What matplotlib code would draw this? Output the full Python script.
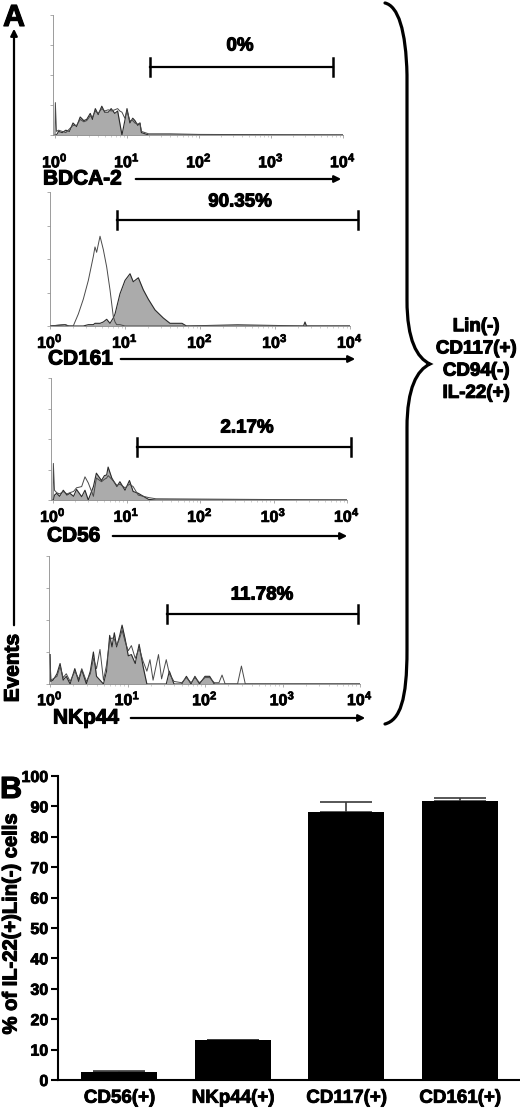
import numpy as np
import matplotlib
matplotlib.use('Agg')
import matplotlib.pyplot as plt
import matplotlib.patheffects as pe
from matplotlib.path import Path
from matplotlib.patches import PathPatch, FancyArrowPatch

plt.rcParams['font.family'] = ['Liberation Sans', 'DejaVu Sans']
plt.rcParams['font.weight'] = 'bold'
plt.rcParams['mathtext.fontset'] = 'custom'
plt.rcParams['mathtext.rm'] = 'Liberation Sans:bold'
plt.rcParams['mathtext.bf'] = 'Liberation Sans:bold'
plt.rcParams['mathtext.default'] = 'rm'

# ---------------- data ----------------
markers = ['BDCA-2', 'CD161', 'CD56', 'NKp44']
gate_pct = ['0%', '90.35%', '2.17%', '11.78%']
gate_lo = [21, 7.8, 13.9, 32]
gate_hi = [7200, 12600, 11300, 9400]
decades = [0, 1, 2, 3, 4]
decade_labels = ['$10^{0}$', '$10^{1}$', '$10^{2}$', '$10^{3}$', '$10^{4}$']
population = ['Lin(-)', 'CD117(+)', 'CD94(-)', 'IL-22(+)']

# histograms: channel position in decades, relative event counts
bdca_pos = [0.0, 0.005, 0.02, 0.05, 0.1, 0.15, 0.2, 0.25, 0.3, 0.35, 0.4, 0.44, 0.49, 0.52,
            0.56, 0.6, 0.65, 0.69, 0.74, 0.78, 0.83, 0.87, 0.9, 0.93, 0.97, 1.0, 1.04, 1.08,
            1.11, 1.15, 1.18, 1.2, 1.3, 1.6, 2.0, 4.0]
bdca_fill = [0.0, 0.0, 0.0, 0.03, 0.02, 0.04, 0.03, 0.1, 0.07, 0.15, 0.12, 0.13, 0.18, 0.13,
             0.22, 0.17, 0.24, 0.19, 0.19, 0.22, 0.18, 0.2, 0.1, 0.0, 0.12, 0.22, 0.1, 0.14,
             0.12, 0.08, 0.1, 0.02, 0.0, 0.0, 0.0, 0.0]
bdca_open = [0.0, 0.27, 0.03, 0.04, 0.03, 0.02, 0.05, 0.08, 0.08, 0.13, 0.11, 0.12, 0.16, 0.15,
             0.2, 0.18, 0.22, 0.2, 0.21, 0.2, 0.21, 0.22, 0.2, 0.19, 0.14, 0.2, 0.12, 0.12,
             0.1, 0.09, 0.1, 0.03, 0.01, 0.01, 0.005, 0.0]

cd161_pos = [0.0, 0.2, 0.25, 0.31, 0.378, 0.444, 0.511, 0.578, 0.6, 0.622, 0.667, 0.711, 0.756,
             0.8, 0.844, 0.867, 0.889, 0.933, 1.0, 1.067, 1.11, 1.178, 1.244, 1.311, 1.4, 1.51,
             1.6, 1.76, 1.82, 2.5, 3.38, 3.4, 3.42, 4.0]
cd161_fill = [0.0, 0.01, 0.0, 0.0, 0.0, 0.0, 0.01, 0.01, 0.02, 0.02, 0.02, 0.03, 0.05,
              0.02, 0.06, 0.09, 0.14, 0.24, 0.34, 0.39, 0.33, 0.36, 0.27, 0.2, 0.12, 0.06,
              0.02, 0.02, 0.0, 0.0, 0.0, 0.03, 0.0, 0.0]
cd161_open = [0.0, 0.01, 0.0, 0.0, 0.09, 0.2, 0.34, 0.52, 0.59, 0.55, 0.67, 0.57, 0.44,
              0.27, 0.07, 0.03, 0.01, 0.01, 0.0, 0.0, 0.0, 0.0, 0.0, 0.0, 0.0, 0.0,
              0.0, 0.0, 0.0, 0.01, 0.0, 0.0, 0.0, 0.0]

cd56_pos = [0.0, 0.005, 0.02, 0.05, 0.09, 0.14, 0.19, 0.23, 0.28, 0.32, 0.39, 0.435, 0.48, 0.55,
            0.59, 0.66, 0.7, 0.73, 0.75, 0.8, 0.87, 0.91, 0.98, 1.04, 1.09, 1.16, 1.23, 1.3,
            1.4, 4.0]
cd56_fill = [0.0, 0.0, 0.04, 0.055, 0.03, 0.08, 0.04, 0.055, 0.03, 0.087, 0.027, 0.08, 0.0,
             0.11, 0.22, 0.16, 0.2, 0.205, 0.27, 0.18, 0.11, 0.15, 0.08, 0.16, 0.07, 0.055,
             0.03, 0.005, 0.0, 0.0]
cd56_open = [0.0, 0.3, 0.08, 0.06, 0.05, 0.07, 0.05, 0.06, 0.07, 0.1, 0.11, 0.19, 0.14, 0.03,
             0.18, 0.15, 0.17, 0.18, 0.2, 0.17, 0.12, 0.13, 0.1, 0.13, 0.11, 0.04, 0.03, 0.02,
             0.01, 0.0]

nkp44_pos = [0.0, 0.01, 0.04, 0.09, 0.13, 0.17, 0.21, 0.26, 0.32, 0.37, 0.41, 0.47, 0.52, 0.56,
             0.6, 0.645, 0.69, 0.73, 0.77, 0.8, 0.83, 0.86, 0.9, 0.93, 0.97, 1.01, 1.05, 1.1,
             1.15, 1.2, 1.25, 1.29, 1.33, 1.4, 1.44, 1.5, 1.54, 1.6, 1.7, 1.76, 1.82, 1.87,
             1.93, 2.0, 2.06, 2.12, 2.18, 2.22, 2.26, 2.42, 2.47, 2.52, 4.0]
nkp44_fill = [0.23, 0.02, 0.03, 0.08, 0.16, 0.03, 0.06, 0.0, 0.12, 0.02, 0.11, 0.0, 0.1, 0.25,
              0.06, 0.03, 0.0, 0.1, 0.38, 0.29, 0.4, 0.29, 0.38, 0.46, 0.35, 0.22, 0.23, 0.16,
              0.31, 0.14, 0.0, 0.0, 0.0, 0.0, 0.0, 0.0, 0.1, 0.0, 0.0, 0.06, 0.0, 0.06,
              0.0, 0.06, 0.06, 0.0, 0.0, 0.0, 0.0, 0.0, 0.0, 0.0, 0.0]
nkp44_open = [0.23, 0.03, 0.04, 0.06, 0.14, 0.05, 0.08, 0.02, 0.1, 0.04, 0.12, 0.02, 0.08, 0.2,
              0.12, 0.27, 0.03, 0.15, 0.34, 0.36, 0.35, 0.3, 0.36, 0.42, 0.33, 0.26, 0.3, 0.2,
              0.28, 0.18, 0.1, 0.19, 0.03, 0.23, 0.04, 0.19, 0.08, 0.02, 0.01, 0.05, 0.01, 0.05,
              0.01, 0.05, 0.05, 0.01, 0.01, 0.07, 0.0, 0.0, 0.14, 0.0, 0.0]

hist_pos = [bdca_pos, cd161_pos, cd56_pos, nkp44_pos]
hist_fill = [bdca_fill, cd161_fill, cd56_fill, nkp44_fill]
hist_open = [bdca_open, cd161_open, cd56_open, nkp44_open]

# panel B
groups = ['CD56(+)', 'NKp44(+)', 'CD117(+)', 'CD161(+)']
pct_mean = [2.6, 13.0, 88.2, 91.8]
pct_err = [0.5, 0.3, 3.2, 1.1]

# ---------------- layout (pixels) ----------------
W, H = 520, 1108
fig = plt.figure(figsize=(W / 100, H / 100), dpi=100)
heavy = [pe.withStroke(linewidth=0.8, foreground='black')]


def fx(x):
    return x / W


def fy(y):
    return 1 - y / H


def btext(x, y, s, **kw):
    t = fig.text(fx(x), fy(y), s, fontweight='bold', **kw)
    t.set_path_effects(heavy)
    return t


# left, 10^0 px, 10^4 px, top, bottom
boxes = [(53, 55, 343, 15, 135), (50, 50, 350, 192, 326),
         (51, 53, 347, 378, 500), (49, 50, 360, 556, 684)]
gate_y = [67, 220, 447, 614]
pct_xy = [(240, 46), (240, 202), (247, 428), (262, 595)]
label_xy = [(43, 179), (48, 359), (47, 536), (53, 718)]
arrow_x = [(133, 344), (118, 358), (110, 350), (128, 368)]
tick_pad = [10, 2.5, 2.5, 2]

for i in range(4):
    left, x0, x4, top, bot = boxes[i]
    ax = fig.add_axes([fx(left), fy(bot), (x4 - left) / W, (bot - top) / H])
    dec = (x4 - x0) / 4
    ax.set_xscale('log')
    ax.set_xlim(10 ** ((left - x0) / dec), 1e4)
    ax.set_ylim(0, 1)
    xs = 10 ** np.array(hist_pos[i])
    ax.fill_between(xs, 0, hist_fill[i], color='#ababab', lw=0, zorder=1)
    ax.plot(xs, hist_fill[i], color='#2a2a2a', lw=0.8, zorder=2)
    ax.plot(xs, hist_open[i], color='#4a4a4a', lw=0.7, zorder=3)
    for s in ['top', 'right']:
        ax.spines[s].set_visible(False)
    for s in ['left', 'bottom']:
        ax.spines[s].set_color('#8c8c8c')
        ax.spines[s].set_linewidth(0.6)
    ax.set_yticks([0, 0.25, 0.5, 0.75, 1.0])
    ax.set_yticklabels([])
    ax.tick_params(axis='y', length=2, width=0.5, color='#8c8c8c')
    ax.set_xticks([10.0 ** d for d in decades])
    ax.set_xticklabels(decade_labels)
    ax.tick_params(axis='x', which='major', length=2, width=0.5, color='#8c8c8c',
                   labelsize=11.5, pad=tick_pad[i])
    ax.tick_params(axis='x', which='minor', length=1.2, width=0.4, color='#aaaaaa')
    for lab in ax.get_xticklabels():
        lab.set_path_effects([pe.withStroke(linewidth=0.5, foreground='black')])
    ax.patch.set_alpha(0)

    # gate
    gy = (bot - gate_y[i]) / (bot - top)
    ch = 9 / (bot - top)
    ax.plot([gate_lo[i], gate_hi[i]], [gy, gy], color='black', lw=1.6, clip_on=False)
    for gx in [gate_lo[i], gate_hi[i]]:
        ax.plot([gx, gx], [gy - ch, gy + ch], color='black', lw=1.8, clip_on=False)
    btext(pct_xy[i][0], pct_xy[i][1], gate_pct[i], ha='center', va='center', fontsize=13.5)

    # marker label and arrow
    btext(label_xy[i][0], label_xy[i][1], markers[i], ha='left', va='center', fontsize=15)
    fig.add_artist(FancyArrowPatch(
        (fx(arrow_x[i][0]), fy(label_xy[i][1])), (fx(arrow_x[i][1]), fy(label_xy[i][1])),
        transform=fig.transFigure, arrowstyle='-|>', mutation_scale=10, lw=1.6, color='black'))

# Events axis arrow
fig.add_artist(FancyArrowPatch(
    (fx(14), fy(628)), (fx(14), fy(26)), transform=fig.transFigure,
    arrowstyle='-|>', mutation_scale=10, lw=1.6, color='black'))
btext(13, 668, 'Events', rotation=90, ha='center', va='center', fontsize=15)

btext(14, 18, 'A', ha='center', va='center', fontsize=22)
btext(11, 790, 'B', ha='center', va='center', fontsize=22)

# brace
bp = [(385, 3), (398, 6), (406, 30), (407, 75), (407, 300), (407, 340), (417, 358),
      (430, 364), (417, 370), (407, 388), (407, 428), (407, 650), (407, 700), (400, 720),
      (385, 724)]
codes = [Path.MOVETO, Path.CURVE4, Path.CURVE4, Path.CURVE4, Path.LINETO, Path.CURVE4,
         Path.CURVE4, Path.CURVE4, Path.CURVE4, Path.CURVE4, Path.CURVE4, Path.LINETO,
         Path.CURVE4, Path.CURVE4, Path.CURVE4]
brace = Path([(fx(x), fy(y)) for x, y in bp], codes)
fig.add_artist(PathPatch(brace, transform=fig.transFigure, fill=False, lw=2.3,
                         edgecolor='black', capstyle='round'))
btext(476, 360, '\n'.join(population), ha='center', va='center', fontsize=13.5,
      linespacing=1.4)

# ---------------- panel B ----------------
axb = fig.add_axes([fx(58), fy(1080), (519 - 58) / W, (1080 - 776) / H])
xpos = np.arange(len(groups))
axb.errorbar(xpos, pct_mean, yerr=[np.zeros(len(groups)), pct_err], fmt='none',
             ecolor='#3a3a3a', elinewidth=1.2, capsize=19, capthick=1.2, zorder=1)
axb.bar(xpos, pct_mean, width=0.67, color='black', zorder=2)
axb.set_xlim(-0.54, 3.52)
axb.set_ylim(0, 100)
axb.set_yticks(range(0, 101, 10))
axb.set_xticks(xpos)
axb.set_xticklabels(groups)
for s in ['top', 'right']:
    axb.spines[s].set_visible(False)
for s in ['left', 'bottom']:
    axb.spines[s].set_linewidth(1.5)
axb.tick_params(axis='y', direction='out', length=5, width=1.5, labelsize=11.5, pad=2)
axb.tick_params(axis='x', length=0, labelsize=13.5, pad=7)
for lab in axb.get_xticklabels() + axb.get_yticklabels():
    lab.set_fontweight('bold')
    lab.set_path_effects([pe.withStroke(linewidth=0.6, foreground='black')])
btext(11, 924, '% of IL-22(+)Lin(-) cells', rotation=90, ha='center', va='center',
      fontsize=14.5)

fig.savefig('out.png', dpi=100)
